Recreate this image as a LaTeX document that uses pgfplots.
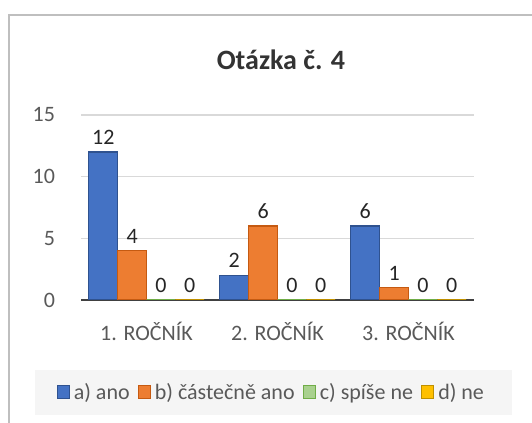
\documentclass[border=0pt]{standalone}
\usepackage{pgfplots}
\pgfplotsset{compat=1.18}
\usepackage{fontspec}
\setmainfont{Carlito}
\definecolor{cA}{HTML}{4472C4}
\definecolor{cAd}{HTML}{2F528F}
\definecolor{cB}{HTML}{ED7D31}
\definecolor{cBd}{HTML}{C55A11}
\definecolor{cC}{HTML}{A9D18E}
\definecolor{cCd}{HTML}{70AD47}
\definecolor{cD}{HTML}{FFC000}
\definecolor{cDd}{HTML}{BF9000}
\definecolor{txt}{HTML}{595959}
\definecolor{grd}{HTML}{D9D9D9}
\begin{document}
\begin{tikzpicture}[x=0.75pt,y=0.75pt]
\useasboundingbox (0,0) rectangle (532,423);
\draw[line width=1.5pt, color=black!25] (9,0) -- (9,408) -- (532,408);
\node[font=\bfseries\fontsize{21}{24}\selectfont, text=black!80] at (281,363) {Otázka č. 4};
\fill[black!4] (35,8) rectangle (512,53);
\begin{axis}[
  at={(60.75pt,92.25pt)}, anchor=south west,
  scale only axis, width=294.75pt, height=138.75pt,
  ybar=0pt, bar width=0.22,
  xmin=-0.5, xmax=2.5, ymin=0, ymax=15,
  ytick={0,5,10,15},
  xtick={0,1,2}, xticklabels={1. ROČNÍK,2. ROČNÍK,3. ROČNÍK},
  major tick length=0pt,
  ymajorgrids, grid style={grd, line width=1pt},
  axis x line*=bottom, axis y line*=left,
  y axis line style={draw=none},
  x axis line style={line width=2pt, color=black!75, -},
  ticklabel style={font=\fontsize{16.5}{18}\selectfont, text=txt},
  /pgf/number format/assume math mode=true,
  yticklabel style={xshift=-16pt},
  xticklabel style={yshift=-13pt},
  nodes near coords,
  every node near coord/.append style={font=\fontsize{16.5}{18}\selectfont, text=black!85, yshift=2pt},
  legend columns=4,
  legend style={at={(0.485,0)}, anchor=center, yshift=-69pt, draw=none, fill=none,
    font=\fontsize{16.5}{18}\selectfont, text=txt, inner sep=0pt,
    /tikz/every even column/.append style={column sep=4pt},
    /tikz/every odd column/.append style={column sep=1pt}},
  legend image code/.code={\draw[#1] (0cm,-0.16cm) rectangle (0.32cm,0.16cm);},
]
\addplot[fill=cA, draw=cAd, line width=0.8pt] coordinates {(0,12) (1,2) (2,6)};
\addplot[fill=cB, draw=cBd, line width=0.8pt] coordinates {(0,4) (1,6) (2,1)};
\addplot[fill=cC, draw=cCd, line width=0.8pt] coordinates {(0,0) (1,0) (2,0)};
\addplot[fill=cD, draw=cDd, line width=0.8pt] coordinates {(0,0) (1,0) (2,0)};
\legend{a) ano, b) částečně ano, c) spíše ne, d) ne}
\end{axis}
\end{tikzpicture}
\end{document}
